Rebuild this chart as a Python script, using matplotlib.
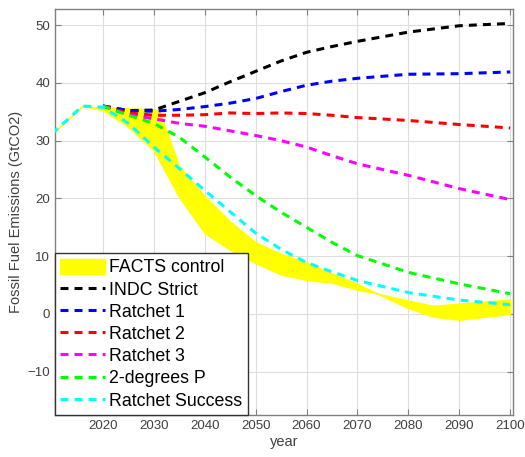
import numpy as np
import matplotlib.pyplot as plt

plt.rcParams['font.family'] = ['Liberation Sans', 'DejaVu Sans']

# shared history (all scenarios start from this)
hist_years = [2010, 2016, 2020]
hist_vals = [31.2, 36.0, 36.0]

# scenario years and values (GtCO2)
years = [2020, 2025, 2030, 2035, 2040, 2045, 2050, 2055, 2060, 2065, 2070, 2080, 2090, 2100]
indc_strict = [36.0, 35.2, 35.3, 36.8, 38.3, 40.2, 42.0, 43.8, 45.3, 46.3, 47.2, 48.8, 49.9, 50.3]
ratchet1 = [36.0, 35.2, 35.1, 35.4, 35.9, 36.5, 37.3, 38.5, 39.6, 40.3, 40.8, 41.5, 41.6, 41.9]
ratchet2 = [36.0, 34.8, 34.4, 34.4, 34.5, 34.8, 34.7, 34.8, 34.7, 34.4, 34.0, 33.5, 32.8, 32.2]
ratchet3 = [36.0, 34.5, 33.8, 33.0, 32.5, 31.7, 30.9, 30.0, 28.9, 27.4, 26.0, 24.0, 21.7, 19.8]
two_deg = [36.0, 34.4, 33.0, 30.6, 27.2, 23.7, 20.5, 17.6, 15.0, 12.4, 10.1, 7.2, 5.2, 3.5]
ratchet_success = [35.8, 33.0, 28.9, 25.2, 21.4, 17.7, 14.0, 11.2, 8.9, 7.3, 5.8, 3.7, 2.4, 1.6]

# FACTS control band (two edges)
band_years = [2010, 2016, 2020, 2025, 2030, 2031, 2035, 2040, 2045, 2050, 2055, 2060, 2065, 2070, 2074, 2080, 2085, 2090, 2100]
band_a = [31.2, 36.0, 35.7, 35.6, 35.4, 35.3, 25.6, 20.4, 16.0, 12.4, 10.4, 8.9, 7.0, 5.2, 3.5, 1.0, -0.5, -1.0, 0.0]
band_b = [31.2, 36.0, 35.3, 32.4, 28.3, 26.7, 20.2, 14.0, 11.1, 8.8, 6.8, 5.9, 5.4, 4.2, 3.5, 2.3, 1.4, 1.8, 2.5]

series = [
    ("INDC Strict", indc_strict, 'black'),
    ("Ratchet 1", ratchet1, '#0000ff'),
    ("Ratchet 2", ratchet2, '#ff0000'),
    ("Ratchet 3", ratchet3, '#ff00ff'),
    ("2-degrees P", two_deg, '#00ff00'),
    ("Ratchet Success", ratchet_success, '#00ffff'),
]

fig = plt.figure(figsize=(5.25, 4.57), dpi=100)
ax = fig.add_axes([55 / 525, 1 - 415 / 457, (512.7 - 55) / 525, (415 - 9) / 457])

ax.fill_between(band_years, band_a, band_b, facecolor='#ffff00', edgecolor='#ffff00',
                linewidth=1, label="FACTS control", zorder=2)

for name, vals, col in series:
    # history is hidden under the last (cyan) line in the original, so only draw it there
    if name == "Ratchet Success":
        x = hist_years[:-1] + years
        y = hist_vals[:-1] + vals
    else:
        x = years
        y = vals
    ax.plot(x, y, color=col, linewidth=2.2, dashes=(2.6, 2.0), label=name, zorder=3)

ax.set_xlim(2010.6, 2100.5)
ax.set_ylim(-17.5, 52.8)
ax.set_xticks(np.arange(2020, 2101, 10))
ax.set_yticks(np.arange(-10, 51, 10))
ax.grid(True, color='#dedede', linewidth=0.8)
ax.set_axisbelow(True)
ax.tick_params(direction='in', top=True, right=True, length=4, labelsize=9.5,
               colors='#808080', labelcolor='#404040')
for s in ax.spines.values():
    s.set_color('#808080')
    s.set_linewidth(1)

ax.set_xlabel("year", fontsize=10.5, color='#404040', labelpad=2)
ax.set_ylabel("Fossil Fuel Emissions (GtCO2)", fontsize=10.5, color='#404040', labelpad=3)

leg = ax.legend(loc='lower left', borderaxespad=0, fontsize=12.8, fancybox=False,
                handlelength=2.5, handleheight=0.95, labelspacing=0.25,
                handletextpad=0.25, borderpad=0.3, framealpha=1)
leg.get_frame().set_edgecolor('#333333')
leg.get_frame().set_linewidth(1)

fig.savefig('out.png', dpi=100)
